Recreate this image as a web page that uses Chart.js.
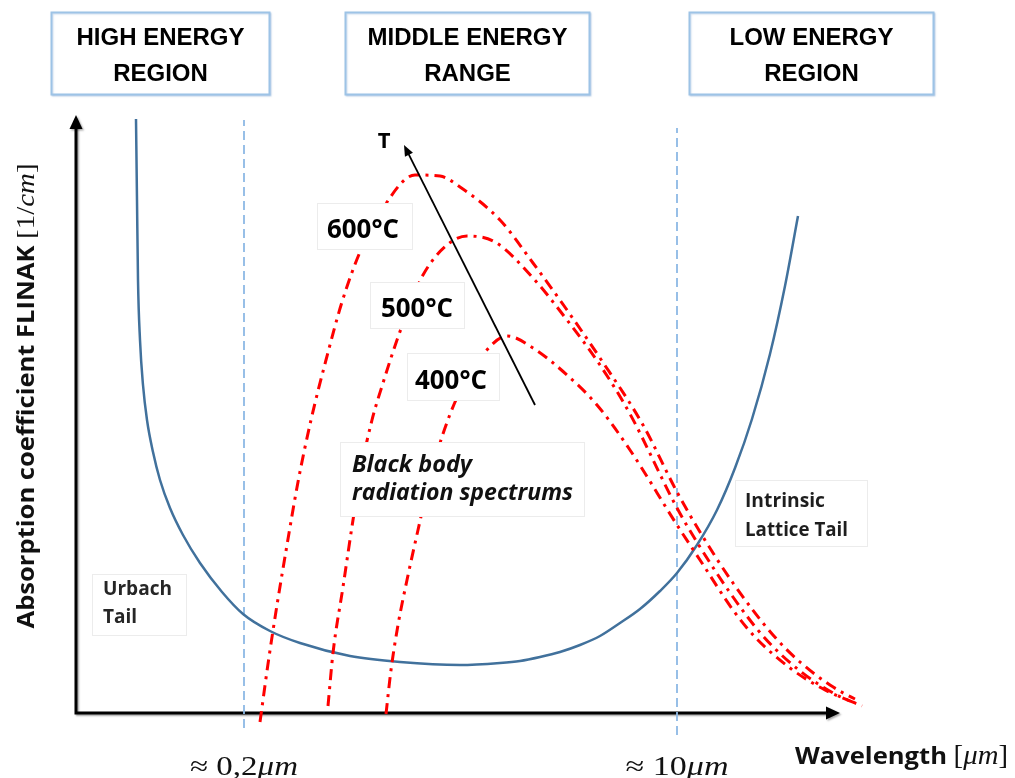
<!DOCTYPE html>
<html>
<head>
<meta charset="utf-8">
<script src="https://cdn.jsdelivr.net/npm/chart.js@4.4.1/dist/chart.umd.min.js"></script>
<style>
  html, body { margin: 0; padding: 0; background: #ffffff; }
  canvas { display: block; }
</style>
</head>
<body>
<canvas id="chart" width="1015" height="778"></canvas>
<script>
// Schematic axes in arbitrary units: wavelength grows to the right, absorption upwards.
const xRange = [0, 765];
const yRange = [0, 598];

// Boundaries between the energy regions on the wavelength axis.
const boundaryX = [169, 602];
const boundaryLabels = ['≈ 0,2', '≈ 10'];
const boundarySpan = [[-15, 593], [-22, 585]];

// FLINAK absorption coefficient: Urbach tail, transparent window, intrinsic lattice tail.
const absorptionCurve = [
  [61, 594], [62, 513], [63, 433], [65, 373], [68, 328], [72, 293], [78, 261],
  [85, 233], [95, 205], [108, 178], [125, 150], [147, 121], [168, 99], [195, 82],
  [225, 70], [275, 57], [325, 51], [385, 48], [425, 50], [445, 52], [465, 56],
  [485, 61], [505, 68], [525, 77], [545, 90], [565, 104], [585, 122], [602, 140],
  [622, 168], [642, 203], [660, 245], [677, 294], [695, 359], [710, 427], [723, 497]
];

// Black body radiation spectra.
const spectrum600 = [
  [185, -9], [193, 49], [202, 108], [212, 168], [223, 231], [236, 293], [251, 353],
  [267, 411], [285, 461], [308, 505], [340, 538], [365, 537], [385, 526], [425, 493],
  [458, 450], [492, 403], [525, 355], [568, 288], [602, 221], [625, 181], [658, 130],
  [698, 78], [725, 51], [755, 28], [780, 14], [808, 3]
];
const spectrum500 = [
  [253, 7], [258, 60], [268, 126], [278, 193], [287, 248], [297, 293], [308, 330],
  [322, 373], [335, 408], [348, 438], [372, 468], [392, 477], [420, 471], [458, 435],
  [492, 393], [525, 348], [555, 299], [602, 205], [625, 166], [658, 116], [688, 77],
  [725, 42], [760, 19], [787, 7]
];
const spectrum400 = [
  [311, -1], [316, 43], [323, 88], [332, 133], [343, 183], [355, 235], [370, 285],
  [388, 328], [410, 361], [432, 377], [458, 365], [492, 338], [522, 308], [555, 263],
  [602, 188], [625, 153], [658, 103], [680, 76], [715, 45], [750, 23], [775, 12]
];
const spectrumLabels = ['600°C', '500°C', '400°C'];

// Temperature arrow: tail, head.
const temperatureArrow = [[460, 308], [329, 568]];

const toPoints = arr => arr.map(([x, y]) => ({ x, y }));

const RED = '#ff0000';
const SPECTRUM_DASH = [11, 6, 3, 6];

function spectrumDataset(points, label) {
  return {
    label, data: toPoints(points), borderColor: RED, borderWidth: 3,
    borderDash: SPECTRUM_DASH, cubicInterpolationMode: 'monotone',
    pointRadius: 0, clip: false, order: 1
  };
}

function boundaryDataset(i) {
  return {
    label: 'boundary ' + boundaryLabels[i],
    data: [{ x: boundaryX[i], y: boundarySpan[i][0] }, { x: boundaryX[i], y: boundarySpan[i][1] }],
    borderColor: '#8db9e5', borderWidth: 1.8, borderDash: [9, 5],
    pointRadius: 0, clip: false, order: 3
  };
}

// Text helpers ---------------------------------------------------------------
// Draws a run of differently styled text pieces, optionally stretched to a width.
function drawRuns(ctx, runs, x, y, align, width, color) {
  ctx.save();
  let total = 0;
  const widths = runs.map(r => { ctx.font = r.font; const w = ctx.measureText(r.t).width; total += w; return w; });
  const s = width ? width / total : 1;
  ctx.translate(x, y);
  ctx.scale(s, 1);
  let cx = align === 'center' ? -total / 2 : (align === 'right' ? -total : 0);
  ctx.fillStyle = color || '#000';
  ctx.textBaseline = 'alphabetic';
  ctx.textAlign = 'left';
  runs.forEach((r, i) => { ctx.font = r.font; ctx.fillText(r.t, cx, 0); cx += widths[i]; });
  ctx.restore();
}

function whiteBox(ctx, x0, y0, x1, y1, stroke, lw) {
  ctx.save();
  ctx.fillStyle = '#ffffff';
  ctx.fillRect(x0, y0, x1 - x0, y1 - y0);
  ctx.strokeStyle = stroke;
  ctx.lineWidth = lw;
  ctx.strokeRect(x0 + 0.5, y0 + 0.5, x1 - x0 - 1, y1 - y0 - 1);
  ctx.restore();
}

function arrowHead(ctx, tipX, tipY, angle, len, half) {
  ctx.beginPath();
  ctx.moveTo(tipX, tipY);
  ctx.lineTo(tipX - len * Math.cos(angle) + half * Math.sin(angle), tipY - len * Math.sin(angle) - half * Math.cos(angle));
  ctx.lineTo(tipX - len * Math.cos(angle) - half * Math.sin(angle), tipY - len * Math.sin(angle) + half * Math.cos(angle));
  ctx.closePath();
  ctx.fill();
}

const SANS = '"Open Sans", "DejaVu Sans", sans-serif';
const MATH = '"Liberation Serif", "DejaVu Serif", serif';

const diagramPlugin = {
  id: 'diagram',
  beforeDatasetsDraw(chart) {
    const { ctx, chartArea: a } = chart;
    ctx.save();
    ctx.shadowColor = 'rgba(0,0,0,0.35)';
    ctx.shadowOffsetX = 1.5;
    ctx.shadowOffsetY = 1.5;
    ctx.shadowBlur = 2;
    ctx.strokeStyle = '#000';
    ctx.fillStyle = '#000';
    ctx.lineWidth = 3;
    ctx.beginPath();
    ctx.moveTo(a.left + 1, a.top + 10);
    ctx.lineTo(a.left + 1, a.bottom);
    ctx.lineTo(a.right - 10, a.bottom);
    ctx.stroke();
    arrowHead(ctx, a.left + 1, a.top, -Math.PI / 2, 14, 6.5);
    arrowHead(ctx, a.right, a.bottom, 0, 14, 6.5);
    ctx.restore();
  },
  afterDatasetsDraw(chart) {
    const { ctx } = chart;
    const xs = chart.scales.x, ys = chart.scales.y;
    const px = v => xs.getPixelForValue(v);
    const py = v => ys.getPixelForValue(v);

    // Temperature arrow
    ctx.save();
    const [tail, head] = temperatureArrow;
    const hx = px(head[0]), hy = py(head[1]), tx = px(tail[0]), ty = py(tail[1]);
    const ang = Math.atan2(hy - ty, hx - tx);
    ctx.strokeStyle = '#000';
    ctx.fillStyle = '#000';
    ctx.lineWidth = 1.8;
    ctx.beginPath();
    ctx.moveTo(tx, ty);
    ctx.lineTo(hx - 8 * Math.cos(ang), hy - 8 * Math.sin(ang));
    ctx.stroke();
    arrowHead(ctx, hx, hy, ang, 11, 4.5);
    ctx.restore();
    drawRuns(ctx, [{ t: 'T', font: 'bold 22px ' + SANS }], 384, 148, 'center', 0, '#000');

    // Temperature labels on the spectra
    const faint = '#ececec';
    whiteBox(ctx, 317, 203, 413, 250, faint, 1);
    drawRuns(ctx, [{ t: spectrumLabels[0], font: 'bold 26px ' + SANS }], 363, 238, 'center', 72, '#000');
    whiteBox(ctx, 370, 282, 465, 329, faint, 1);
    drawRuns(ctx, [{ t: spectrumLabels[1], font: 'bold 26px ' + SANS }], 417, 317, 'center', 72, '#000');
    whiteBox(ctx, 407, 353, 500, 401, faint, 1);
    drawRuns(ctx, [{ t: spectrumLabels[2], font: 'bold 26px ' + SANS }], 451, 389, 'center', 72, '#000');

    // Spectrum caption
    whiteBox(ctx, 340, 442, 585, 517, faint, 1);
    drawRuns(ctx, [{ t: 'Black body', font: 'italic bold 23px ' + SANS }], 352, 472, 'left', 120, '#111');
    drawRuns(ctx, [{ t: 'radiation spectrums', font: 'italic bold 23px ' + SANS }], 352, 500, 'left', 221, '#111');

    // Tail captions
    whiteBox(ctx, 92, 574, 187, 636, faint, 1);
    drawRuns(ctx, [{ t: 'Urbach', font: 'bold 19px ' + SANS }], 103, 595, 'left', 69, '#262626');
    drawRuns(ctx, [{ t: 'Tail', font: 'bold 19px ' + SANS }], 103, 623, 'left', 0, '#262626');
    whiteBox(ctx, 735, 480, 868, 547, faint, 1);
    drawRuns(ctx, [{ t: 'Intrinsic', font: 'bold 19px ' + SANS }], 745, 507, 'left', 80, '#1e1e1e');
    drawRuns(ctx, [{ t: 'Lattice Tail', font: 'bold 19px ' + SANS }], 745, 536, 'left', 103, '#1e1e1e');

    // Energy region headers
    const headers = [
      { box: [51, 12, 270, 95], lines: ['HIGH ENERGY', 'REGION'] },
      { box: [345, 12, 590, 95], lines: ['MIDDLE ENERGY', 'RANGE'] },
      { box: [689, 12, 934, 95], lines: ['LOW ENERGY', 'REGION'] }
    ];
    headers.forEach(h => {
      const [x0, y0, x1, y1] = h.box;
      ctx.save();
      ctx.shadowColor = 'rgba(120,160,210,0.35)';
      ctx.shadowOffsetX = 1;
      ctx.shadowOffsetY = 1;
      ctx.shadowBlur = 1.5;
      whiteBox(ctx, x0, y0, x1, y1, '#9dc3e6', 2);
      ctx.restore();
      const cx = (x0 + x1) / 2;
      drawRuns(ctx, [{ t: h.lines[0], font: 'bold 24px "Liberation Sans", Arial, sans-serif' }], cx, 45, 'center', 0, '#000');
      drawRuns(ctx, [{ t: h.lines[1], font: 'bold 24px "Liberation Sans", Arial, sans-serif' }], cx, 81, 'center', 0, '#000');
    });

    // Wavelength markers under the axis
    boundaryX.forEach((v, i) => {
      drawRuns(ctx, [
        { t: boundaryLabels[i], font: '27px ' + MATH },
        { t: 'μm', font: 'italic 27px ' + MATH }
      ], px(v), 775, 'center', i === 0 ? 108 : 103, '#111');
    });

    // Axis titles
    drawRuns(ctx, [
      { t: 'Wavelength ', font: 'bold 24px ' + SANS },
      { t: '[', font: '27px ' + MATH },
      { t: 'μm', font: 'italic 27px ' + MATH },
      { t: ']', font: '27px ' + MATH }
    ], 795, 764, 'left', 213, '#111');

    ctx.save();
    ctx.translate(34, 396);
    ctx.rotate(-Math.PI / 2);
    drawRuns(ctx, [
      { t: 'Absorption coefficient FLINAK ', font: 'bold 23px ' + SANS },
      { t: '[1/', font: '26px ' + MATH },
      { t: 'cm', font: 'italic 26px ' + MATH },
      { t: ']', font: '26px ' + MATH }
    ], 0, 0, 'center', 465, '#111');
    ctx.restore();
  }
};

new Chart(document.getElementById('chart'), {
  type: 'line',
  data: {
    datasets: [
      {
        label: 'Absorption coefficient', data: toPoints(absorptionCurve),
        borderColor: '#41719c', borderWidth: 2.5, cubicInterpolationMode: 'monotone',
        pointRadius: 0, clip: false, order: 2
      },
      spectrumDataset(spectrum600, spectrumLabels[0]),
      spectrumDataset(spectrum500, spectrumLabels[1]),
      spectrumDataset(spectrum400, spectrumLabels[2]),
      boundaryDataset(0),
      boundaryDataset(1)
    ]
  },
  options: {
    responsive: false,
    animation: false,
    events: [],
    layout: { padding: { left: 75, right: 175, top: 115, bottom: 65 } },
    plugins: { legend: { display: false }, tooltip: { enabled: false } },
    scales: {
      x: { type: 'linear', min: xRange[0], max: xRange[1], display: false },
      y: { type: 'linear', min: yRange[0], max: yRange[1], display: false }
    }
  },
  plugins: [diagramPlugin]
});
</script>
</body>
</html>
